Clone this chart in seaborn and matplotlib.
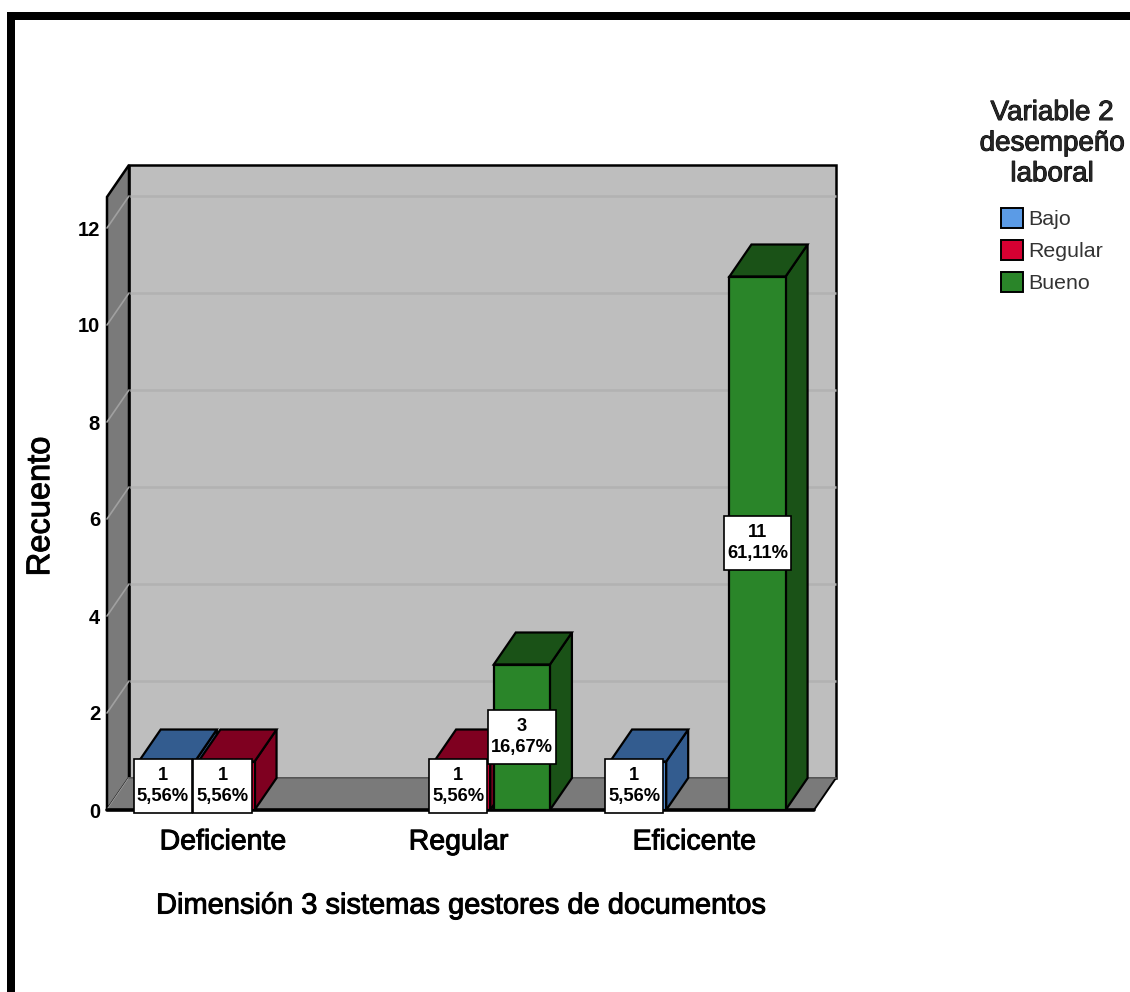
import matplotlib
matplotlib.use("Agg")
import matplotlib.pyplot as plt
import matplotlib.patheffects as pe
from matplotlib.patches import Polygon, Rectangle
import pandas as pd
import seaborn as sns

categories = ["Deficiente", "Regular", "Eficicente"]
levels = ["Bajo", "Regular", "Bueno"]
bajo = [1, 0, 1]
regular = [1, 1, 0]
bueno = [0, 3, 11]
pct_bajo = ["5,56%", "", "5,56%"]
pct_regular = ["5,56%", "5,56%", ""]
pct_bueno = ["", "16,67%", "61,11%"]
y_ticks = [0, 2, 4, 6, 8, 10, 12]
front_colors = ["#5B9BE6", "#D50032", "#2A8529"]
dark_colors = ["#335C8F", "#7F0020", "#1A5217"]

W, H = 1130, 992
PX_PER_UNIT = 48.5
PX_PER_CAT = 707 / 3
DEPTH_X, DEPTH_Y = 22, 32

sns.set_theme(style="white")
plt.rcParams["font.family"] = ["Liberation Sans", "DejaVu Sans"]
thick = [pe.withStroke(linewidth=0.7, foreground="black")]

rows = []
for cat, a, b, c in zip(categories, bajo, regular, bueno):
    rows.append({"cat": cat, "nivel": "Bajo", "n": a})
    rows.append({"cat": cat, "nivel": "Regular", "n": b})
    rows.append({"cat": cat, "nivel": "Bueno", "n": c})
df = pd.DataFrame(rows)

fig = plt.figure(figsize=(W / 100, H / 100), dpi=100, facecolor="white")
ax_h = 12.64 * PX_PER_UNIT
ax = fig.add_axes([107 / W, (H - 810) / H, 707 / W, ax_h / H])
ax.patch.set_visible(False)

sns.barplot(data=df, x="cat", y="n", hue="nivel", order=categories, hue_order=levels,
            palette=front_colors, saturation=1, width=0.76, gap=0.06, errorbar=None,
            edgecolor="black", linewidth=1.6, ax=ax)
# bars sit a little right of centre in the original
ax.set_xlim(-0.507, 2.493)
ax.set_ylim(0, 12.64)
sns.despine(ax=ax, left=True, bottom=True)

# depth of the fake 3d box, in data units
dx = DEPTH_X / PX_PER_CAT
dy = DEPTH_Y / PX_PER_UNIT
x0, x1 = ax.get_xlim()
y0, y1 = ax.get_ylim()
box_top = y1


def face(points, color, z, lw=1.6, ec="black"):
    ax.add_patch(Polygon(points, closed=True, facecolor=color, edgecolor=ec, linewidth=lw,
                         zorder=z, clip_on=False, joinstyle="miter"))


# walls and floor
face([(x0 + dx, y0 + dy), (x1 + dx, y0 + dy), (x1 + dx, box_top + dy), (x0 + dx, box_top + dy)], "#BEBEBE", 0.1, lw=1.8)
face([(x0, y0), (x0 + dx, y0 + dy), (x0 + dx, box_top + dy), (x0, box_top)], "#7A7A7A", 0.2, lw=1.8)
face([(x0, y0), (x1, y0), (x1 + dx, y0 + dy), (x0 + dx, y0 + dy)], "#7A7A7A", 0.3, lw=0)
ax.plot([x0, x1], [y0, y0], color="black", lw=2.6, zorder=0.4, clip_on=False)
ax.plot([x1, x1 + dx], [y0, y0 + dy], color="black", lw=1.4, zorder=0.4, clip_on=False)
ax.plot([x0 + dx, x1 + dx], [y0 + dy, y0 + dy], color="#5E5E5E", lw=1.2, zorder=0.4, clip_on=False)

for t in y_ticks:
    if t > 0:
        ax.plot([x0 + dx, x1 + dx], [t + dy, t + dy], color="#B2B2B2", lw=1.8, zorder=0.15,
                clip_on=False, solid_capstyle="butt")
    ax.plot([x0, x0 + dx], [t, t + dy], color="#A0A0A0", lw=1.2, zorder=0.25, clip_on=False)

# bar sides, tops and labels
counts = [bajo, regular, bueno]
pcts = [pct_bajo, pct_regular, pct_bueno]
labels = []
for i, cont in enumerate(ax.containers):
    for j, bar in enumerate(cont.patches):
        n = counts[i][j]
        if n == 0:
            bar.set_visible(False)
            continue
        bar.set_zorder(3)
        left = bar.get_x()
        right = left + bar.get_width()
        top = bar.get_height()
        face([(right, 0), (right + dx, dy), (right + dx, top + dy), (right, top)], dark_colors[i], 2)
        face([(left, top), (right, top), (right + dx, top + dy), (left + dx, top + dy)], dark_colors[i], 2)
        # the small boxes sit a bit left of their bar
        shift = 0 if i == 2 else -4 / PX_PER_CAT
        labels.append(ax.text(left + bar.get_width() / 2 + shift, top / 2, f"{n}\n{pcts[i][j]}",
                              ha="center", va="center", fontsize=13.2, fontweight="bold",
                              color="black", linespacing=1.3, zorder=5))

# white boxes sized from the text, taller than a text bbox would be
renderer = fig.canvas.get_renderer()
inv = ax.transData.inverted()
for txt in labels:
    ext = txt.get_window_extent(renderer)
    (bx0, by0), (bx1, by1) = inv.transform([(ext.x0 - 3, ext.y0 - 8), (ext.x1 + 3, ext.y1 + 8)])
    ax.add_patch(Rectangle((bx0, by0), bx1 - bx0, by1 - by0, facecolor="white", edgecolor="black",
                           linewidth=1.2, zorder=4, clip_on=False))

ax.set_yticks(y_ticks)
ax.set_yticklabels([str(t) for t in y_ticks], fontsize=14.5, fontweight="bold", color="black")
ax.tick_params(axis="y", length=0, pad=5)
ax.set_xticks([k - 0.015 for k in range(len(categories))])
ax.set_xticklabels(categories)
ax.tick_params(axis="x", length=0, pad=14)
for lab in ax.get_xticklabels():
    lab.set_fontsize(20.5)
    lab.set_color("black")
    lab.set_path_effects(thick)

ax.set_xlabel("Dimensión 3 sistemas gestores de documentos", fontsize=20.9, color="black",
              labelpad=26, path_effects=thick)
ax.set_ylabel("Recuento", fontsize=23.5, color="black", labelpad=15.5, path_effects=thick)
ax.yaxis.label.set_y(0.495)

sns.move_legend(ax, "upper center", bbox_to_anchor=(1052 / W, 1 - 100 / H), bbox_transform=fig.transFigure,
                title="Variable 2\ndesempeño\nlaboral", frameon=False, fontsize=15.4, title_fontsize=20,
                labelspacing=0.5, handlelength=1.03, handleheight=1.07, handletextpad=0.25,
                borderpad=0, borderaxespad=0)
leg = ax.get_legend()
leg.get_title().set_linespacing(1.23)
leg.get_title().set_path_effects(thick)
leg.get_title().set_multialignment("center")
leg._legend_box.sep = 15
for h in leg.get_patches():
    h.set_edgecolor("black")
    h.set_linewidth(1.4)
for t in leg.get_texts():
    t.set_color("#333333")

# black frame, top and left only
fig.add_artist(Rectangle((7 / W, 0), 8 / W, (H - 12) / H, transform=fig.transFigure, color="black", lw=0))
fig.add_artist(Rectangle((7 / W, (H - 20) / H), (W - 7) / W, 8 / H, transform=fig.transFigure, color="black", lw=0))

fig.savefig("out.png", dpi=100)
